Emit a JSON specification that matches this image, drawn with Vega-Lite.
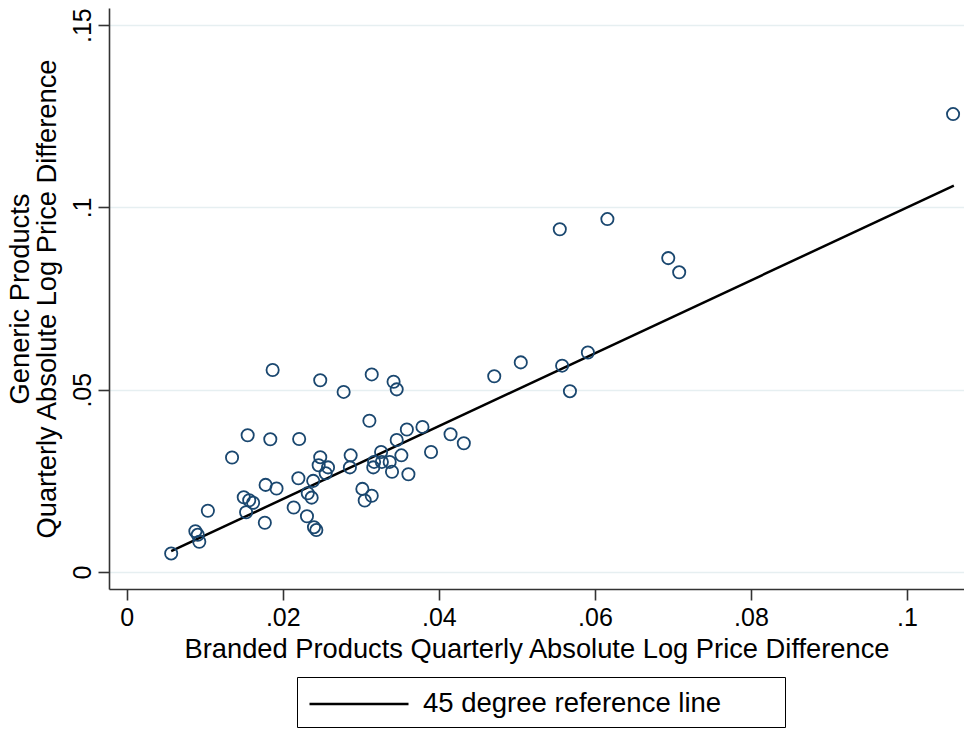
{
  "$schema": "https://vega.github.io/schema/vega-lite/v6.json",
  "autosize": "none",
  "width": 855,
  "height": 581,
  "padding": {"left": 109, "top": 8, "right": 0, "bottom": 141},
  "background": "white",
  "config": {
    "view": {"stroke": null},
    "font": "Liberation Sans",
    "axis": {
      "domainColor": "#333333",
      "domainWidth": 1.6,
      "tickColor": "#333333",
      "tickWidth": 1.6,
      "tickSize": 11,
      "labelColor": "black",
      "titleColor": "black",
      "labelFontSize": 25,
      "titleFontSize": 27.3,
      "titleFontWeight": "normal",
      "labelFont": "Liberation Sans",
      "titleFont": "Liberation Sans"
    }
  },
  "datasets": {
    "pts": [
      {"branded": 0.0187, "generic": 0.0554},
      {"branded": 0.0248, "generic": 0.0526},
      {"branded": 0.0314, "generic": 0.0542},
      {"branded": 0.0342, "generic": 0.0522},
      {"branded": 0.0346, "generic": 0.0501},
      {"branded": 0.0278, "generic": 0.0494},
      {"branded": 0.0311, "generic": 0.0415},
      {"branded": 0.0155, "generic": 0.0375},
      {"branded": 0.0184, "generic": 0.0364},
      {"branded": 0.0221, "generic": 0.0365},
      {"branded": 0.0135, "generic": 0.0314},
      {"branded": 0.0359, "generic": 0.0391},
      {"branded": 0.0379, "generic": 0.0398},
      {"branded": 0.0415, "generic": 0.0378},
      {"branded": 0.0346, "generic": 0.0362},
      {"branded": 0.0326, "generic": 0.0329},
      {"branded": 0.0352, "generic": 0.0320},
      {"branded": 0.0390, "generic": 0.0329},
      {"branded": 0.0287, "generic": 0.0320},
      {"branded": 0.0248, "generic": 0.0315},
      {"branded": 0.0246, "generic": 0.0293},
      {"branded": 0.0258, "generic": 0.0287},
      {"branded": 0.0255, "generic": 0.0271},
      {"branded": 0.0286, "generic": 0.0287},
      {"branded": 0.0316, "generic": 0.0287},
      {"branded": 0.0327, "generic": 0.0302},
      {"branded": 0.0337, "generic": 0.0302},
      {"branded": 0.0340, "generic": 0.0275},
      {"branded": 0.0361, "generic": 0.0268},
      {"branded": 0.0220, "generic": 0.0257},
      {"branded": 0.0239, "generic": 0.0250},
      {"branded": 0.0178, "generic": 0.0239},
      {"branded": 0.0192, "generic": 0.0229},
      {"branded": 0.0232, "generic": 0.0216},
      {"branded": 0.0237, "generic": 0.0204},
      {"branded": 0.0302, "generic": 0.0228},
      {"branded": 0.0314, "generic": 0.0209},
      {"branded": 0.0305, "generic": 0.0196},
      {"branded": 0.0150, "generic": 0.0205},
      {"branded": 0.0157, "generic": 0.0197},
      {"branded": 0.0162, "generic": 0.0190},
      {"branded": 0.0153, "generic": 0.0164},
      {"branded": 0.0214, "generic": 0.0177},
      {"branded": 0.0104, "generic": 0.0168},
      {"branded": 0.0231, "generic": 0.0153},
      {"branded": 0.0177, "generic": 0.0135},
      {"branded": 0.0240, "generic": 0.0123},
      {"branded": 0.0243, "generic": 0.0115},
      {"branded": 0.0088, "generic": 0.0112},
      {"branded": 0.0091, "generic": 0.0102},
      {"branded": 0.0093, "generic": 0.0083},
      {"branded": 0.0057, "generic": 0.0051},
      {"branded": 0.0432, "generic": 0.0353},
      {"branded": 0.0317, "generic": 0.0302},
      {"branded": 0.0471, "generic": 0.0537},
      {"branded": 0.0505, "generic": 0.0575},
      {"branded": 0.0558, "generic": 0.0566},
      {"branded": 0.0591, "generic": 0.0602},
      {"branded": 0.0568, "generic": 0.0496},
      {"branded": 0.0555, "generic": 0.0940},
      {"branded": 0.0616, "generic": 0.0968},
      {"branded": 0.0694, "generic": 0.0861},
      {"branded": 0.0708, "generic": 0.0822},
      {"branded": 0.1059, "generic": 0.1256}
    ],
    "ref": [
      {"branded": 0.0057, "generic": 0.0057, "series": "45 degree reference line"},
      {"branded": 0.1060, "generic": 0.1060, "series": "45 degree reference line"}
    ]
  },
  "encoding": {
    "x": {
      "field": "branded",
      "type": "quantitative",
      "scale": {"domain": [-0.00227, 0.1073], "nice": false, "zero": false},
      "axis": {
        "title": "Branded Products Quarterly Absolute Log Price Difference",
        "values": [0, 0.02, 0.04, 0.06, 0.08, 0.1],
        "labelExpr": "datum.value == 0 ? '0' : slice(format(datum.value, '.2~f'), 1)",
        "grid": false,
        "labelPadding": 5,
        "titleY": 60,
        "titleBaseline": "middle",
        "labelFlush": false,
        "labelOverlap": false
      }
    },
    "y": {
      "field": "generic",
      "type": "quantitative",
      "scale": {"domain": [-0.00466, 0.1547], "nice": false, "zero": false},
      "axis": {
        "title": ["Generic Products", "Quarterly Absolute Log Price Difference"],
        "values": [0, 0.05, 0.1, 0.15],
        "labelExpr": "datum.value == 0 ? '0' : slice(format(datum.value, '.2~f'), 1)",
        "grid": true,
        "gridColor": "#e6eff1",
        "gridWidth": 1.5,
        "labelAngle": 270,
        "labelAlign": "center",
        "labelBaseline": "alphabetic",
        "labelPadding": 8,
        "labelFlush": false,
        "labelOverlap": false,
        "titleAngle": 270,
        "titleX": -89,
        "titleBaseline": "middle",
        "titleLineHeight": 27
      }
    }
  },
  "layer": [
    {
      "data": {"name": "ref"},
      "mark": {"type": "line", "strokeWidth": 2.5},
      "encoding": {
        "color": {
          "field": "series",
          "type": "nominal",
          "scale": {"range": ["black"]},
          "legend": {
            "title": " ",
            "titleOrient": "right",
            "titlePadding": 55,
            "orient": "none",
            "legendX": 188,
            "legendY": 669,
            "strokeColor": "black",
            "fillColor": "white",
            "padding": 9,
            "symbolType": "M-3,0H3",
            "symbolSize": 1089,
            "symbolOffset": 35,
            "symbolStrokeWidth": 2.5,
            "symbolStrokeColor": "black",
            "labelFontSize": 27.5,
            "labelFont": "Liberation Sans",
            "labelColor": "black",
            "labelOffset": 46,
            "labelLimit": 600
          }
        }
      }
    },
    {
      "data": {"name": "pts"},
      "mark": {"type": "point", "shape": "circle", "filled": false, "size": 150, "strokeWidth": 1.8, "color": "#1a476f", "opacity": 1}
    }
  ]
}
